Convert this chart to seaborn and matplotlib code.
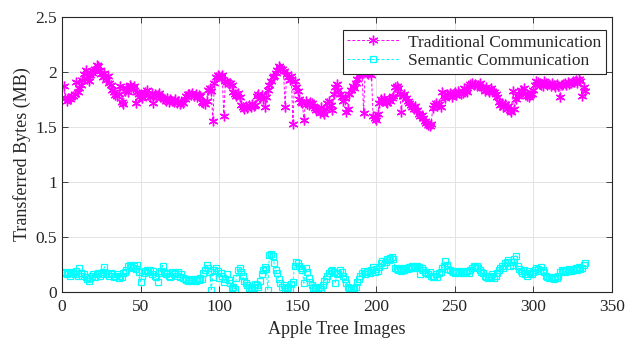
import numpy as np
import pandas as pd
import seaborn as sns
import matplotlib
matplotlib.use("Agg")
import matplotlib.pyplot as plt

traditional = [
    1.87, 1.76, 1.74, 1.76, 1.75, 1.77, 1.78, 1.80, 1.91, 1.82,
    1.85, 1.88, 1.93, 1.98, 2.02, 1.94, 1.92, 1.97, 1.99, 2.01,
    2.03, 2.06, 2.05, 2.02, 1.98, 1.95, 1.99, 1.93, 1.96, 1.90,
    1.88, 1.84, 1.82, 1.79, 1.78, 1.80, 1.87, 1.73, 1.71, 1.83,
    1.85, 1.82, 1.88, 1.86, 1.85, 1.87, 1.72, 1.82, 1.80, 1.78,
    1.76, 1.80, 1.82, 1.84, 1.79, 1.77, 1.81, 1.72, 1.80, 1.78,
    1.79, 1.81, 1.77, 1.76, 1.75, 1.74, 1.76, 1.73, 1.75, 1.74,
    1.73, 1.75, 1.72, 1.74, 1.71, 1.73, 1.72, 1.75, 1.78, 1.80,
    1.80, 1.79, 1.81, 1.78, 1.80, 1.77, 1.79, 1.78, 1.73, 1.72,
    1.71, 1.74, 1.84, 1.85, 1.83, 1.55, 1.90, 1.95, 1.97, 1.96,
    1.95, 1.97, 1.60, 1.92, 1.91, 1.89, 1.90, 1.88, 1.82, 1.80,
    1.78, 1.81, 1.77, 1.70, 1.68, 1.66, 1.69, 1.67, 1.70, 1.68,
    1.71, 1.69, 1.70, 1.78, 1.80, 1.76, 1.79, 1.75, 1.68, 1.77,
    1.84, 1.88, 1.92, 1.95, 1.96, 1.99, 2.02, 2.05, 2.04, 2.03,
    2.01, 1.68, 1.98, 1.95, 1.93, 1.96, 1.53, 1.92, 1.86, 1.83,
    1.75, 1.73, 1.72, 1.56, 1.74, 1.71, 1.70, 1.73, 1.72, 1.69,
    1.67, 1.65, 1.66, 1.63, 1.68, 1.64, 1.62, 1.66, 1.72, 1.74,
    1.70, 1.65, 1.80, 1.86, 1.89, 1.84, 1.80, 1.77, 1.74, 1.76,
    1.64, 1.66, 1.80, 1.84, 1.87, 1.85, 1.90, 1.94, 1.97, 2.00,
    1.98, 1.63, 2.02, 1.99, 1.98, 2.00, 1.97, 1.60, 1.58, 1.56,
    1.62, 1.72, 1.75, 1.74, 1.76, 1.73, 1.72, 1.75, 1.74, 1.76,
    1.78, 1.86, 1.87, 1.85, 1.80, 1.64, 1.78, 1.80, 1.76, 1.74,
    1.72, 1.70, 1.68, 1.66, 1.69, 1.65, 1.62, 1.60, 1.61, 1.58,
    1.55, 1.54, 1.52, 1.51, 1.53, 1.67, 1.70, 1.72, 1.69, 1.71,
    1.68, 1.82, 1.78, 1.76, 1.80, 1.79, 1.81, 1.77, 1.80, 1.82,
    1.79, 1.83, 1.81, 1.80, 1.81, 1.85, 1.84, 1.82, 1.87, 1.89,
    1.90, 1.88, 1.89, 1.87, 1.88, 1.90, 1.86, 1.85, 1.83, 1.86,
    1.84, 1.82, 1.85, 1.83, 1.82, 1.80, 1.77, 1.73, 1.70, 1.72,
    1.68, 1.71, 1.66, 1.69, 1.65, 1.64, 1.83, 1.66, 1.75, 1.78,
    1.80, 1.84, 1.82, 1.85, 1.81, 1.78, 1.77, 1.79, 1.80, 1.84,
    1.88, 1.92, 1.91, 1.89, 1.88, 1.87, 1.92, 1.90, 1.88, 1.89,
    1.87, 1.90, 1.88, 1.86, 1.89, 1.87, 1.77, 1.88, 1.89, 1.90,
    1.88, 1.91, 1.89, 1.90, 1.92, 1.91, 1.93, 1.90, 1.94, 1.92,
    1.78, 1.86, 1.83,
]

semantic = [
    0.17, 0.18, 0.16, 0.17, 0.15, 0.18, 0.17, 0.16, 0.19, 0.15,
    0.22, 0.17, 0.15, 0.16, 0.14, 0.12, 0.10, 0.13, 0.15, 0.16,
    0.14, 0.16, 0.17, 0.15, 0.16, 0.18, 0.23, 0.17, 0.16, 0.15,
    0.17, 0.16, 0.14, 0.15, 0.16, 0.13, 0.15, 0.14, 0.17, 0.18,
    0.20, 0.24, 0.25, 0.23, 0.22, 0.24, 0.21, 0.25, 0.18, 0.09,
    0.15, 0.17, 0.19, 0.20, 0.18, 0.20, 0.16, 0.19, 0.15, 0.14,
    0.09, 0.17, 0.19, 0.24, 0.18, 0.16, 0.17, 0.15, 0.14, 0.18,
    0.16, 0.17, 0.15, 0.18, 0.14, 0.16, 0.13, 0.12, 0.11, 0.10,
    0.12, 0.10, 0.11, 0.12, 0.10, 0.12, 0.11, 0.13, 0.12, 0.17,
    0.20, 0.25, 0.22, 0.18, 0.02, 0.14, 0.20, 0.22, 0.19, 0.13,
    0.17, 0.15, 0.09, 0.12, 0.16, 0.11, 0.08, 0.04, 0.05, 0.03,
    0.13, 0.20, 0.22, 0.18, 0.15, 0.10, 0.08, 0.06, 0.04, 0.05,
    0.03, 0.04, 0.07, 0.06, 0.05, 0.10, 0.16, 0.20, 0.23, 0.21,
    0.02, 0.34, 0.35, 0.33, 0.26, 0.20, 0.17, 0.12, 0.08, 0.05,
    0.06, 0.03, 0.04, 0.05, 0.03, 0.07, 0.09, 0.24, 0.27, 0.26,
    0.24, 0.22, 0.20, 0.08, 0.22, 0.18, 0.13, 0.09, 0.06, 0.04,
    0.05, 0.03, 0.04, 0.05, 0.03, 0.06, 0.10, 0.12, 0.15, 0.17,
    0.19, 0.20, 0.18, 0.08, 0.17, 0.16, 0.20, 0.18, 0.15, 0.12,
    0.08, 0.05, 0.04, 0.03, 0.04, 0.03, 0.05, 0.09, 0.12, 0.15,
    0.17, 0.19, 0.16, 0.18, 0.19, 0.17, 0.20, 0.23, 0.18, 0.21,
    0.19, 0.23, 0.26, 0.28, 0.25, 0.27, 0.30, 0.29, 0.31, 0.32,
    0.30, 0.22, 0.21, 0.20, 0.22, 0.19, 0.21, 0.20, 0.22, 0.21,
    0.23, 0.22, 0.24, 0.23, 0.22, 0.24, 0.23, 0.16, 0.22, 0.20,
    0.18, 0.17, 0.16, 0.18, 0.15, 0.14, 0.15, 0.16, 0.14, 0.17,
    0.18, 0.22, 0.24, 0.28, 0.25, 0.21, 0.20, 0.19, 0.18, 0.17,
    0.19, 0.18, 0.17, 0.19, 0.18, 0.17, 0.18, 0.19, 0.17, 0.20,
    0.22, 0.24, 0.23, 0.24, 0.22, 0.20, 0.18, 0.17, 0.15, 0.14,
    0.13, 0.15, 0.14, 0.16, 0.13, 0.15, 0.17, 0.20, 0.22, 0.24,
    0.22, 0.26, 0.27, 0.29, 0.24, 0.27, 0.25, 0.30, 0.33, 0.24,
    0.21, 0.19, 0.17, 0.20, 0.16, 0.15, 0.19, 0.17, 0.16, 0.18,
    0.20, 0.22, 0.21, 0.19, 0.23, 0.20, 0.18, 0.15, 0.14, 0.13,
    0.14, 0.13, 0.12, 0.14, 0.13, 0.15, 0.18, 0.20, 0.19, 0.18,
    0.20, 0.19, 0.21, 0.19, 0.20, 0.21, 0.22, 0.20, 0.23, 0.21,
    0.22, 0.25, 0.26,
]

image_idx = list(range(1, len(traditional) + 1))
sem_idx = list(range(1, len(semantic) + 1))
x_ticks = [0, 50, 100, 150, 200, 250, 300, 350]
y_ticks = [0, 0.5, 1, 1.5, 2, 2.5]
series_names = ["Traditional Communication", "Semantic Communication"]

sns.set_style("white")
plt.rcParams['font.family'] = ['Liberation Serif', 'DejaVu Serif']

fig = plt.figure(figsize=(6.36, 3.39), dpi=100)
ax = fig.add_axes([0.0975, 0.1386, 0.8645, 0.8114])

dash = (0, (3, 2))
asterisk = (6, 2, 0)
sns.lineplot(x=image_idx, y=traditional, ax=ax, color='#ff00ff',
             linewidth=0.7, marker=asterisk, markersize=7,
             markeredgewidth=1.0, markeredgecolor='#ff00ff',
             label=series_names[0])
sns.lineplot(x=sem_idx, y=semantic, ax=ax, color='#00ffff',
             linewidth=0.7, marker='s', markersize=5,
             markerfacecolor='none', markeredgecolor='#00ffff',
             markeredgewidth=0.9, label=series_names[1])
for ln in ax.get_lines():
    ln.set_linestyle(dash)

ax.set_xlim(0, 350)
ax.set_ylim(0, 2.5)
ax.set_xticks(x_ticks)
ax.set_yticks(y_ticks)
ax.set_yticklabels([f"{v:g}" for v in y_ticks])
ax.grid(True, color='#e3e3e3', linewidth=0.7)
ax.set_axisbelow(True)
for s in ax.spines.values():
    s.set_color('#262626')
    s.set_linewidth(0.8)
    s.set_visible(True)
ax.tick_params(direction='in', length=4, width=0.6, colors='#262626',
               labelsize=12.5, top=True, right=True, bottom=True, left=True,
               labelcolor='#262626')
ax.tick_params(axis='x', pad=5)
ax.set_xlabel("Apple Tree Images", fontsize=13, color='#262626', labelpad=4)
ax.set_ylabel("Transferred Bytes (MB)", fontsize=13, color='#262626', labelpad=3)

leg = ax.legend(loc='upper right', bbox_to_anchor=(0.995, 0.965), fontsize=12.5,
                frameon=True, fancybox=False, edgecolor='#262626',
                framealpha=1, borderpad=0.25, labelspacing=0.15,
                handlelength=3.0, handletextpad=0.5, borderaxespad=0.2)
leg.get_frame().set_linewidth(0.8)
for h in leg.legend_handles:
    h.set_linestyle(dash)
for t in leg.get_texts():
    t.set_color('#262626')

fig.savefig("out.png", dpi=100)
